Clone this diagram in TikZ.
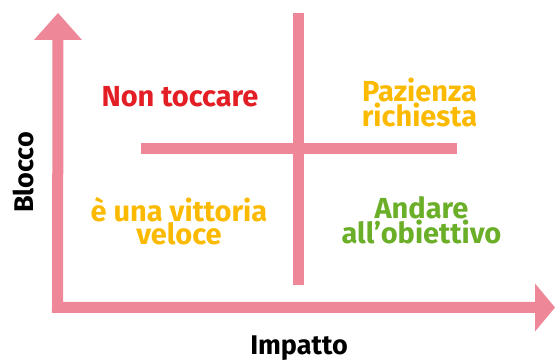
\documentclass[tikz,border=0pt]{standalone}
\usepackage{fontspec}
\setmainfont{Fira Sans}
\definecolor{axpink}{RGB}{238,136,152}
\definecolor{qred}{RGB}{227,30,36}
\definecolor{qyellow}{RGB}{251,186,0}
\definecolor{qgreen}{RGB}{107,174,40}
\begin{document}
\begin{tikzpicture}[x=1pt,y=1pt,
  axisline/.style={draw=axpink,line width=11pt},
  headfill/.style={fill=axpink},
  quad/.style={font=\bfseries\fontsize{29}{21}\selectfont,align=center,inner sep=0pt,anchor=base},
  axlabel/.style={font=\bfseries\fontsize{27}{27}\selectfont,text=black,inner sep=0pt,anchor=base}]
\useasboundingbox (0,0) rectangle (555,361);
% axes
\coordinate (ytip) at (58,348);
\coordinate (ybase) at (58,321);
\coordinate (corner) at (57.5,53.5);
\coordinate (xbase) at (535,53.5);
\coordinate (xtip) at (555,53.5);
\draw[axisline,line join=miter] (ybase) -- (corner) -- (xbase);
\fill[headfill] (ytip) -- ([xshift=-24pt]ybase) -- ([xshift=24pt]ybase) -- cycle;
\fill[headfill] (xtip) -- ([yshift=24pt]xbase) -- ([yshift=-24pt]xbase) -- cycle;
% dividers
\coordinate (vtop) at (298.5,348);
\coordinate (vbot) at (298.5,76);
\coordinate (hl) at (141,212);
\coordinate (hr) at (457,212);
\draw[axisline] (vtop) -- (vbot);
\draw[axisline] (hl) -- (hr);
% quadrant labels
\node[quad,text=qred] (nt) at (180,254) {Non toccare};
\node[quad,text=qyellow] (pr) at (419.5,234) {Pazienza\\richiesta};
\node[quad,text=qyellow] (vv) at (179,116) {è una vittoria\\veloce};
\node[quad,text=qgreen] (ao) at (421.5,117) {Andare\\all’obiettivo};
% axis labels
\node[axlabel,rotate=90] (bl) at (33,188.5) {Blocco};
\node[axlabel] (im) at (299,6) {Impatto};
\end{tikzpicture}
\end{document}
